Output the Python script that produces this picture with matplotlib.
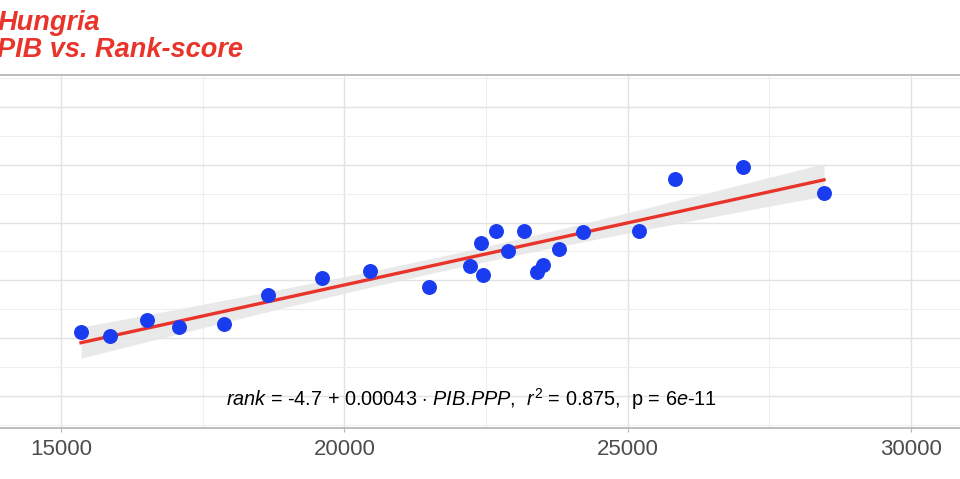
import numpy as np
import matplotlib
matplotlib.use("Agg")
import matplotlib.pyplot as plt
from matplotlib.ticker import MultipleLocator

plt.rcParams["font.family"] = ["Liberation Sans", "DejaVu Sans"]
plt.rcParams["mathtext.fontset"] = "custom"
plt.rcParams["mathtext.rm"] = "Liberation Sans"
plt.rcParams["mathtext.it"] = "Liberation Sans:italic"

# PIB (PPP) vs rank-score, Hungria
pib = [15353, 15865, 16523, 17077, 17881, 18658, 19606, 20458, 21499, 22218,
       22452, 22417, 22676, 22888, 23176, 23395, 23501, 23783, 24217, 25200,
       25835, 27030, 28465]
rank = [2.21, 2.09, 2.62, 2.39, 2.51, 3.51, 4.10, 4.31, 3.79, 4.51,
        4.20, 5.31, 5.70, 5.00, 5.70, 4.29, 4.52, 5.09, 5.67, 5.70,
        7.51, 7.91, 7.01]

x = np.array(pib, dtype=float)
y = np.array(rank, dtype=float)

# linear fit + 95% confidence band (like geom_smooth(method="lm"))
slope, intercept = np.polyfit(x, y, 1)
n = len(x)
resid = y - (intercept + slope * x)
s = np.sqrt(np.sum(resid ** 2) / (n - 2))
t_crit = 2.080  # t(0.975, df=21)
xs = np.linspace(x.min(), x.max(), 100)
ys = intercept + slope * xs
se = s * np.sqrt(1 / n + (xs - x.mean()) ** 2 / np.sum((x - x.mean()) ** 2))

fig = plt.figure(figsize=(9.6, 4.79), dpi=100)
# panel is cropped at the left and right in the reference
ax = fig.add_axes([-0.025, 0.1065, 1.0625, 0.7369])

ax.fill_between(xs, ys - t_crit * se, ys + t_crit * se, color="#e6e6e6",
                alpha=0.85, linewidth=0, zorder=2)
ax.plot(xs, ys, color="#e8342a", linewidth=2.4, zorder=3)
ax.scatter(x, y, s=95, color="#1a3cf0", edgecolor="#1a3cf0", zorder=4)

ax.set_xlim(13500, 31500)
ax.set_ylim(-1.09, 11.09)
ax.xaxis.set_major_locator(MultipleLocator(5000))
ax.xaxis.set_minor_locator(MultipleLocator(2500))
ax.yaxis.set_major_locator(MultipleLocator(2))
ax.yaxis.set_minor_locator(MultipleLocator(1))
ax.grid(which="major", color="#e2e2e2", linewidth=1.0, zorder=0)
ax.grid(which="minor", color="#eeeeee", linewidth=0.8, zorder=0)
ax.set_axisbelow(True)

ax.tick_params(axis="x", which="major", length=3, color="#b5b5b5",
               labelsize=16, labelcolor="#4d4d4d", pad=5)
ax.tick_params(axis="x", which="minor", length=0)
ax.tick_params(axis="y", which="both", length=0, labelleft=False)

for side in ["top", "bottom"]:
    ax.spines[side].set_color("#b8b8b8")
    ax.spines[side].set_linewidth(1.3)
for side in ["left", "right"]:
    ax.spines[side].set_visible(False)

label = (r"$\mathit{rank}$ = -4.7 + 0.00043 $\cdot$ $\mathit{PIB}$.$\mathit{PPP}$,  "
         r"$\mathit{r}^2$ = 0.875,  p = $\mathit{6e}$-$\mathit{11}$")
ax.text(22250, -0.1, label, ha="center", va="center", fontsize=14.3,
        color="black", zorder=5)

fig.text(-0.003, 0.924, "Hungria\nPIB vs. Rank-score", ha="left", va="center",
         fontsize=19.5, fontweight="bold", fontstyle="italic", color="#e8342a",
         linespacing=1.05)

fig.savefig("out.png", dpi=100)
